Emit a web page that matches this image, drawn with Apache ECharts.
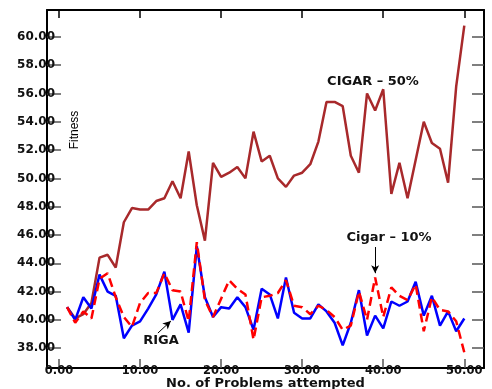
<!DOCTYPE html>
<html>
<head>
<meta charset="utf-8">
<script src="https://cdn.jsdelivr.net/npm/echarts@6/dist/echarts.min.js"></script>
<style>
html,body{margin:0;padding:0;background:#fff;}
#chart{width:492px;height:389px;}
</style>
</head>
<body>
<div id="chart"></div>
<script>
// Number of problems attempted (x)
const problems = [1,2,3,4,5,6,7,8,9,10,11,12,13,14,15,16,17,18,19,20,21,22,23,24,25,26,27,28,29,30,31,32,33,34,35,36,37,38,39,40,41,42,43,44,45,46,47,48,49,50];
// CIGAR - 50%
const cigar50 = [40.9,40.1,40.4,41.2,44.4,44.6,43.7,46.9,47.9,47.8,47.8,48.4,48.6,49.8,48.6,51.9,48.1,45.6,51.1,50.1,50.4,50.8,50.0,53.3,51.2,51.6,50.0,49.4,50.2,50.4,51.0,52.6,55.4,55.4,55.1,51.6,50.4,56.0,54.8,56.3,48.9,51.1,48.6,51.3,54.0,52.5,52.1,49.7,56.5,60.8];
// RIGA
const riga = [40.9,40.0,41.6,40.8,43.2,42.0,41.7,38.7,39.6,39.9,40.8,41.8,43.4,40.0,41.1,39.1,45.2,41.6,40.2,40.9,40.8,41.6,40.9,39.3,42.2,41.8,40.1,43.0,40.5,40.1,40.1,41.1,40.6,39.8,38.2,39.8,42.1,38.9,40.3,39.4,41.3,41.0,41.3,42.7,40.3,41.7,39.6,40.6,39.2,40.1];
// Cigar - 10%
const cigar10 = [40.9,39.8,40.6,40.1,42.9,43.3,41.6,40.2,39.5,41.2,41.9,41.9,43.3,42.1,42.0,39.9,45.5,41.4,40.2,41.5,42.8,42.2,41.8,38.6,41.6,41.7,41.9,42.8,41.0,40.9,40.4,41.0,40.7,40.2,39.3,39.6,42.0,40.0,43.0,40.2,42.3,41.7,41.4,42.5,39.2,41.6,40.7,40.6,39.9,37.7];
// tick values
const xTicks = [0,10,20,30,40,50];
const yTicks = [38,40,42,44,46,48,50,52,54,56,58,60];

const chart = echarts.init(document.getElementById('chart'), null, {renderer:'canvas'});
const pair = arr => problems.map((x,i)=>[x, arr[i]]);
const labelFont = 'DejaVu Sans';

const xMin = -1.48, xMax = 52.43, yMin = 36.6, yMax = 61.9;

const option = {
  backgroundColor:'#fff',
  animation:false,
  grid:{left:47,right:8,top:10,bottom:21,containLabel:false,outerBoundsMode:'none'},
  xAxis:[{
    type:'value', position:'bottom', min:xMin, max:xMax,
    name:'No. of Problems attempted', nameLocation:'middle', nameGap:9, nameMoveOverlap:false,
    nameTextStyle:{fontFamily:labelFont,fontWeight:'bold',fontSize:13,color:'#111',verticalAlign:'top'},
    axisLine:{show:true,onZero:false,lineStyle:{color:'#000',width:2}},
    axisTick:{show:true,inside:true,length:9,customValues:xTicks,lineStyle:{color:'#555',width:1.5}},
    axisLabel:{show:true,margin:-3,verticalAlign:'top',align:'center',customValues:xTicks,fontFamily:labelFont,fontWeight:'bold',fontSize:11.5,color:'#111',
      formatter:v=>v.toFixed(2)},
    splitLine:{show:false}
  },{
    type:'value', position:'top', min:xMin, max:xMax,
    axisLine:{show:true,onZero:false,lineStyle:{color:'#000',width:2}},
    axisTick:{show:true,inside:true,length:8,customValues:xTicks,lineStyle:{color:'#000',width:1.5}},
    axisLabel:{show:false},
    splitLine:{show:false}
  }],
  yAxis:[{
    type:'value', position:'left', min:yMin, max:yMax,
    axisLine:{show:true,onZero:false,lineStyle:{color:'#000',width:2}},
    axisTick:{show:true,inside:true,length:14,customValues:yTicks,lineStyle:{color:'#555',width:1.5}},
    axisLabel:{show:true,margin:-8,align:'right',customValues:yTicks,fontFamily:labelFont,fontWeight:'bold',fontSize:12,color:'#111',
      padding:[0,0,5,0],formatter:v=>v.toFixed(2)},
    splitLine:{show:false}
  },{
    type:'value', position:'right', min:yMin, max:yMax,
    axisLine:{show:true,onZero:false,lineStyle:{color:'#000',width:2}},
    axisTick:{show:true,inside:true,length:12,customValues:yTicks,lineStyle:{color:'#555',width:1.5}},
    axisLabel:{show:false},
    splitLine:{show:false}
  }],
  series:[
    {name:'CIGAR – 50%',type:'line',data:pair(cigar50),showSymbol:false,symbol:'none',
      lineStyle:{color:'#a8292b',width:2.5},z:2},
    {name:'RIGA',type:'line',data:pair(riga),showSymbol:false,symbol:'none',
      lineStyle:{color:'#0000ff',width:2.5},z:3,
      markLine:{silent:true,animation:false,symbol:['none','arrow'],symbolSize:[6,8],
        label:{show:false},lineStyle:{color:'#000',width:1,type:'solid'},
        data:[[{coord:[12.2,39.07]},{coord:[13.8,39.92]}]]}},
    {name:'Cigar – 10%',type:'line',data:pair(cigar10),showSymbol:false,symbol:'none',
      lineStyle:{color:'#ff0000',width:2.5,type:[9,5]},z:4,
      markLine:{silent:true,animation:false,symbol:['none','arrow'],symbolSize:[6,8],
        label:{show:false},lineStyle:{color:'#000',width:1,type:'solid'},
        data:[[{coord:[39,45.15]},{coord:[39,43.3]}]]}}
  ],
  graphic:[
    {type:'text',x:75,y:130,rotation:Math.PI/2,style:{text:'Fitness',font:'12px "Liberation Sans"',fill:'#000',align:'center',verticalAlign:'middle'}},
    {type:'text',x:373,y:81.5,style:{text:'CIGAR – 50%',font:'bold 13px "DejaVu Sans"',fill:'#111',align:'center',verticalAlign:'middle'}},
    {type:'text',x:389,y:238,style:{text:'Cigar – 10%',font:'bold 13px "DejaVu Sans"',fill:'#111',align:'center',verticalAlign:'middle'}},
    {type:'text',x:161,y:341,style:{text:'RIGA',font:'bold 13px "DejaVu Sans"',fill:'#111',align:'center',verticalAlign:'middle'}}
  ]
};
chart.setOption(option);
</script>
</body>
</html>
